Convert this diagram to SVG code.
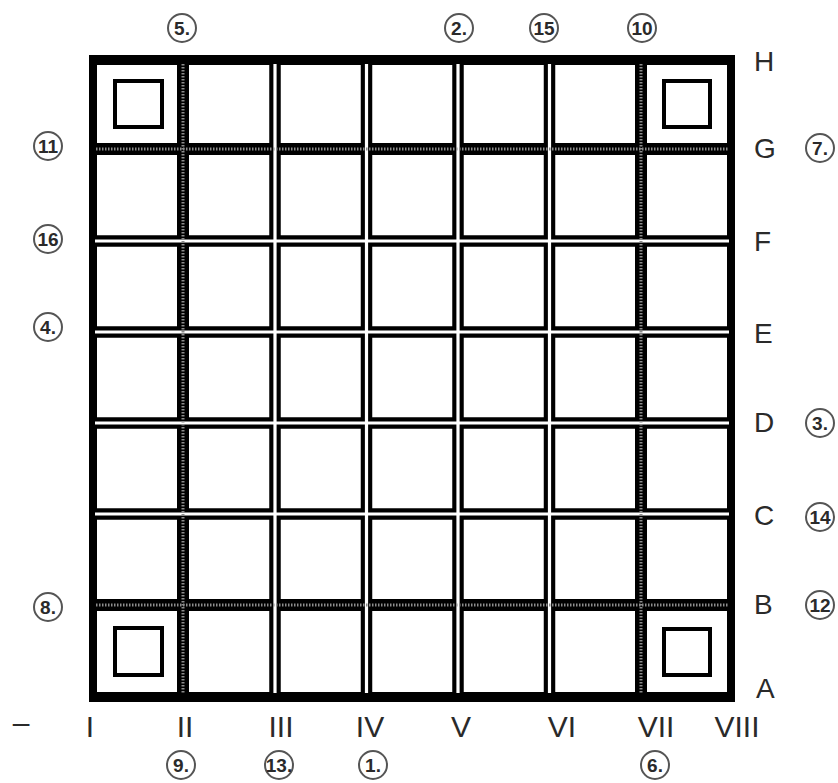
<svg xmlns="http://www.w3.org/2000/svg" width="838" height="783" viewBox="0 0 838 783">
<style>
.cell{fill:#fff}
.gap{stroke:#fff;stroke-width:3.2;fill:none}
.spec{stroke:#8c8c8c;stroke-width:3;stroke-dasharray:1.5 1.5;fill:none}
.mark{fill:none;stroke:#000;stroke-width:4}
.lbl{font-family:"Liberation Sans",Arial,sans-serif;font-size:28px;fill:#2a2a2a}
.num{font-family:"Liberation Sans",Arial,sans-serif;font-size:30px;fill:#2a2a2a;text-anchor:middle}
.co circle{fill:#fff;stroke:#555;stroke-width:2}
.co text{font-family:"Liberation Sans",Arial,sans-serif;font-size:19px;font-weight:bold;fill:#2a2a2a;text-anchor:middle}
</style>
<rect width="838" height="783" fill="#fff"/>
<g id="frame">
<rect x="89" y="55" width="646" height="647" fill="#000"/>
<rect class="cell" x="97" y="65" width="630" height="627"/>
</g>
<g id="grid-lines" fill="none">
<g stroke="#000" stroke-width="12">
<line x1="183" y1="65" x2="183" y2="692"/>
<line x1="641" y1="65" x2="641" y2="692"/>
<line x1="97" y1="149" x2="727" y2="149"/>
<line x1="97" y1="605" x2="727" y2="605"/>
</g>
<g stroke="#000" stroke-width="11.5">
<line x1="275" y1="65" x2="275" y2="692"/>
<line x1="366.5" y1="65" x2="366.5" y2="692"/>
<line x1="458" y1="65" x2="458" y2="692"/>
<line x1="549.5" y1="65" x2="549.5" y2="692"/>
<line x1="97" y1="241" x2="727" y2="241"/>
<line x1="97" y1="332" x2="727" y2="332"/>
<line x1="97" y1="423" x2="727" y2="423"/>
<line x1="97" y1="514" x2="727" y2="514"/>
</g>
<g class="gap">
<line x1="275" y1="64" x2="275" y2="693"/>
<line x1="366.5" y1="64" x2="366.5" y2="693"/>
<line x1="458" y1="64" x2="458" y2="693"/>
<line x1="549.5" y1="64" x2="549.5" y2="693"/>
<line x1="95" y1="241" x2="729" y2="241"/>
<line x1="95" y1="332" x2="729" y2="332"/>
<line x1="95" y1="423" x2="729" y2="423"/>
<line x1="95" y1="514" x2="729" y2="514"/>
</g>
<g class="spec">
<line x1="183" y1="64" x2="183" y2="693"/>
<line x1="641" y1="64" x2="641" y2="693"/>
<line x1="96" y1="149" x2="728" y2="149"/>
<line x1="96" y1="605" x2="728" y2="605"/>
</g>
</g>
<g id="corner-marks">
<rect class="mark" x="115" y="81" width="47" height="46"/>
<rect class="mark" x="664" y="81" width="46" height="46"/>
<rect class="mark" x="115" y="628" width="47" height="47"/>
<rect class="mark" x="664" y="629" width="46" height="46"/>
</g>
<g id="row-labels">
<text class="lbl" x="754" y="71">H</text>
<text class="lbl" x="754" y="158">G</text>
<text class="lbl" x="754" y="251">F</text>
<text class="lbl" x="754" y="343">E</text>
<text class="lbl" x="754" y="432">D</text>
<text class="lbl" x="754" y="525">C</text>
<text class="lbl" x="754" y="614">B</text>
<text class="lbl" x="756" y="698">A</text>
</g>
<g id="column-labels">
<text class="num" x="21" y="733">–</text>
<text class="num" x="90" y="737">I</text>
<text class="num" x="185" y="737">II</text>
<text class="num" x="281" y="737">III</text>
<text class="num" x="370" y="737">IV</text>
<text class="num" x="461" y="737">V</text>
<text class="num" x="562" y="737">VI</text>
<text class="num" x="656" y="737">VII</text>
<text class="num" x="737" y="737">VIII</text>
</g>
<g id="callouts">
<g id="c5" class="co"><circle cx="182" cy="28" r="14"/><text x="182" y="35">5.</text></g>
<g id="c2" class="co"><circle cx="459" cy="28" r="14"/><text x="459" y="35">2.</text></g>
<g id="c15" class="co"><circle cx="544" cy="28" r="14"/><text x="544" y="35">15</text></g>
<g id="c10" class="co"><circle cx="642" cy="28" r="14"/><text x="642" y="35">10</text></g>
<g id="c11" class="co"><circle cx="48" cy="146" r="14"/><text x="48" y="153">11</text></g>
<g id="c16" class="co"><circle cx="48" cy="239" r="14"/><text x="48" y="246">16</text></g>
<g id="c4" class="co"><circle cx="48" cy="327" r="14"/><text x="48" y="334">4.</text></g>
<g id="c8" class="co"><circle cx="48" cy="607" r="14"/><text x="48" y="614">8.</text></g>
<g id="c7" class="co"><circle cx="820" cy="148" r="14"/><text x="820" y="155">7.</text></g>
<g id="c3" class="co"><circle cx="820" cy="423" r="14"/><text x="820" y="430">3.</text></g>
<g id="c14" class="co"><circle cx="820" cy="517" r="14"/><text x="820" y="524">14</text></g>
<g id="c12" class="co"><circle cx="820" cy="605" r="14"/><text x="820" y="612">12</text></g>
<g id="c9" class="co"><circle cx="181" cy="765" r="14"/><text x="181" y="772">9.</text></g>
<g id="c13" class="co"><circle cx="279" cy="765" r="14"/><text x="279" y="772">13.</text></g>
<g id="c1" class="co"><circle cx="373" cy="765" r="14"/><text x="373" y="772">1.</text></g>
<g id="c6" class="co"><circle cx="655" cy="765" r="14"/><text x="655" y="772">6.</text></g>
</g>
</svg>
